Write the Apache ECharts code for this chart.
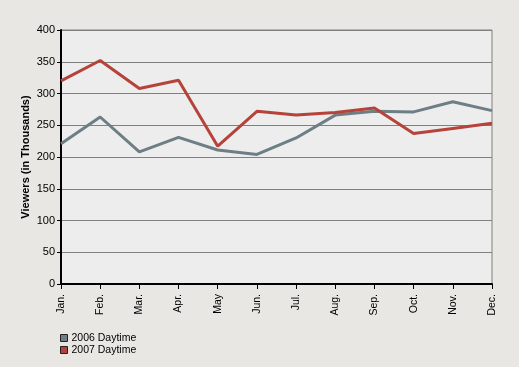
<!DOCTYPE html>
<html><head><meta charset="utf-8">
<script src="https://cdn.jsdelivr.net/npm/echarts@6/dist/echarts.min.js"></script>
<style>html,body{margin:0;padding:0;background:#E8E7E3;}#c{width:519px;height:367px;}</style>
</head><body><div id="c"></div>
<script>
var months = ['Jan.','Feb.','Mar.','Apr.','May','Jun.','Jul.','Aug.','Sep.','Oct.','Nov.','Dec.'];
var daytime2006 = [221, 263, 208, 231, 211, 204, 230, 266, 272, 271, 287, 273];
var daytime2007 = [320, 352, 308, 321, 217, 272, 266, 270, 277, 237, 245, 253];
var seriesNames = ['2006 Daytime', '2007 Daytime'];
var colors = ['#6D7E85', '#B5433A'];
var chart = echarts.init(document.getElementById('c'));
var font = 'Liberation Sans, Arial, sans-serif';
chart.setOption({
  animation: false,
  backgroundColor: '#E8E7E3',
  grid: {left: 61, right: 27, top: 30, bottom: 83, show: true, backgroundColor: '#EDEDED', borderColor: '#808080', borderWidth: 1},
  legend: {
    orient: 'vertical', left: 55, top: 327, itemWidth: 7, itemHeight: 7, itemGap: 0, padding: 5,
    icon: 'rect',
    textStyle: {fontFamily: font, fontSize: 10.5, color: '#000', lineHeight: 12, padding: [0,0,0,-1]},
    data: seriesNames.map(function(n, i){ return {name: n, itemStyle: {color: colors[i], borderColor: '#222', borderWidth: 1}}; })
  },
  xAxis: {
    type: 'category', data: months, boundaryGap: false,
    axisLine: {lineStyle: {color: '#000', width: 2}},
    axisTick: {show: true, length: 5, lineStyle: {color: '#000'}},
    axisLabel: {rotate: 90, fontFamily: font, fontSize: 10.5, color: '#000', margin: 10, interval: 0},
    splitLine: {show: false}
  },
  yAxis: {
    type: 'value', min: 0, max: 400, interval: 50,
    name: 'Viewers (in Thousands)', nameLocation: 'middle', nameGap: 30, nameRotate: 90, nameMoveOverlap: false,
    nameTextStyle: {fontFamily: font, fontSize: 11, fontWeight: 'bold', color: '#000'},
    axisLine: {show: true, lineStyle: {color: '#000', width: 2}},
    axisTick: {show: true, length: 4, lineStyle: {color: '#000'}},
    axisLabel: {fontFamily: font, fontSize: 11, color: '#000', margin: 6},
    splitLine: {show: true, lineStyle: {color: '#808080', width: 1}}
  },
  series: [
    {name: seriesNames[0], type: 'line', data: daytime2006, symbol: 'none', lineStyle: {color: colors[0], width: 3}, itemStyle: {color: colors[0]}},
    {name: seriesNames[1], type: 'line', data: daytime2007, symbol: 'none', lineStyle: {color: colors[1], width: 3}, itemStyle: {color: colors[1]}}
  ]
});
</script></body></html>
